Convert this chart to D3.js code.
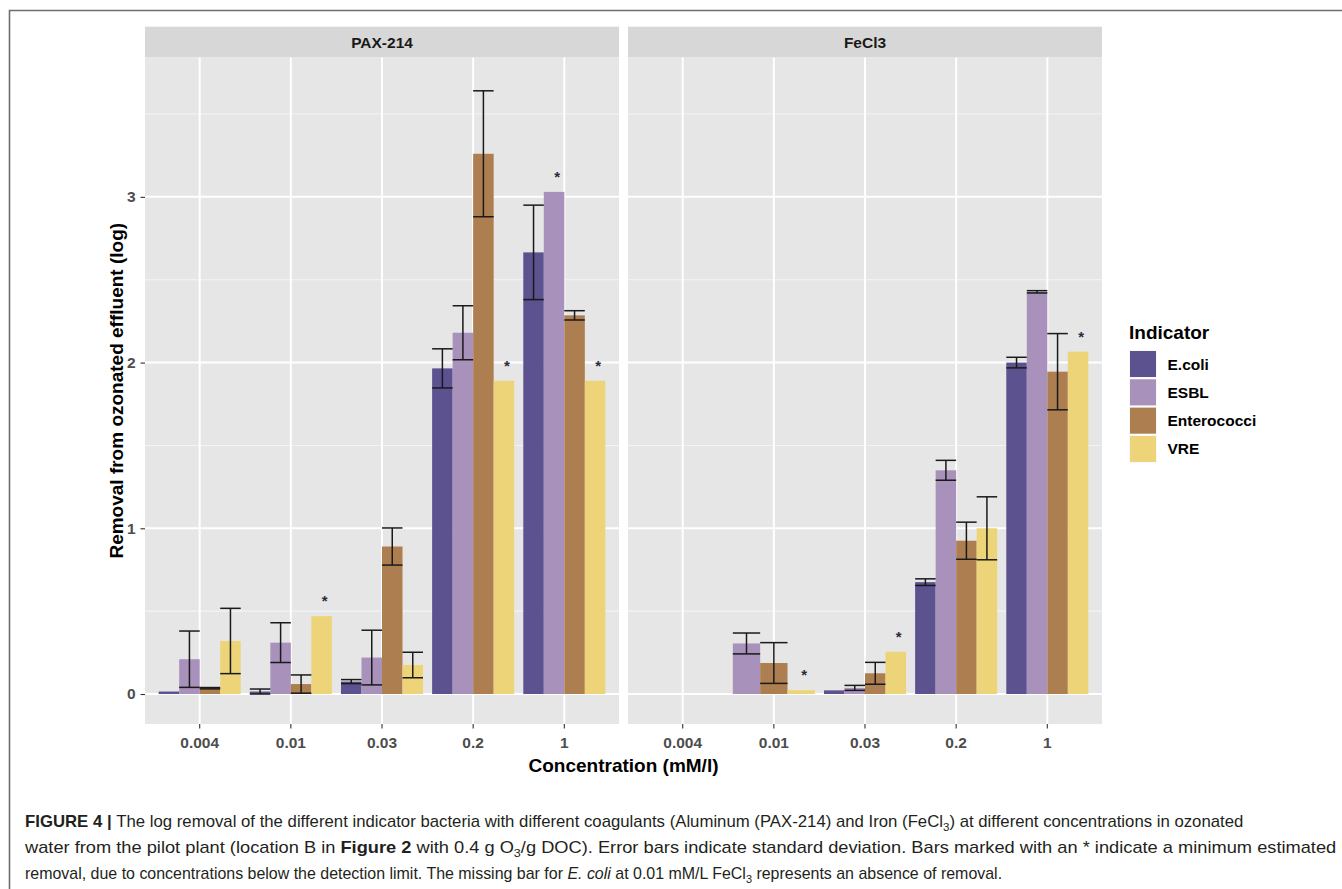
<!DOCTYPE html>
<html><head><meta charset="utf-8">
<script src="https://cdn.jsdelivr.net/npm/d3@7"></script>
<style>body{margin:0;background:#fff} svg{display:block}</style>
</head><body>
<svg id="c" width="1342" height="889"></svg>
<script>
// ---------- data ----------
const categories = ["0.004", "0.01", "0.03", "0.2", "1"];
const panels = ["PAX-214", "FeCl3"];
const indicators = ["E.coli", "ESBL", "Enterococci", "VRE"];
const colors = ["#5B528F", "#A891BB", "#AD7E4F", "#EED479"];
const yTicks = [0, 1, 2, 3];

// PAX-214 (mean log removal, standard deviation)
const paxEcoli      = [0.015, 0.015, 0.075, 1.965, 2.665];
const paxEcoliSd    = [null,  0.015, 0.012, 0.118, 0.285];
const paxEsbl       = [0.21,  0.31,  0.22,  2.18,  3.03];
const paxEsblSd     = [0.17,  0.12,  0.165, 0.163, null];
const paxEntero     = [0.035, 0.06,  0.89,  3.26,  2.285];
const paxEnteroSd   = [0.004, 0.055, 0.112, 0.38,  0.028];
const paxVre        = [0.32,  0.47,  0.175, 1.89,  1.89];
const paxVreSd      = [0.197, null,  0.077, null,  null];

// FeCl3
const fecEcoli      = [null, null,  0.022, 0.675, 2.0];
const fecEcoliSd    = [null, null,  null,  0.02,  0.032];
const fecEsbl       = [null, 0.305, 0.037, 1.35,  2.427];
const fecEsblSd     = [null, 0.063, 0.015, 0.06,  0.007];
const fecEntero     = [null, 0.187, 0.125, 0.925, 1.945];
const fecEnteroSd   = [null, 0.123, 0.066, 0.112, 0.23];
const fecVre        = [null, 0.023, 0.255, 1.0,   2.066];
const fecVreSd      = [null, null,  null,  0.19,  null];

// bars marked with * (minimum estimated removal)
const starred = [
  ["PAX-214", "0.01", "VRE"], ["PAX-214", "0.2", "VRE"],
  ["PAX-214", "1", "ESBL"], ["PAX-214", "1", "VRE"],
  ["FeCl3", "0.01", "VRE"], ["FeCl3", "0.03", "VRE"], ["FeCl3", "1", "VRE"]
];

const seriesByPanel = {
  "PAX-214": [[paxEcoli, paxEcoliSd], [paxEsbl, paxEsblSd], [paxEntero, paxEnteroSd], [paxVre, paxVreSd]],
  "FeCl3":   [[fecEcoli, fecEcoliSd], [fecEsbl, fecEsblSd], [fecEntero, fecEnteroSd], [fecVre, fecVreSd]]
};

// ---------- layout ----------
const svg = d3.select("#c");
const FONT = "'Liberation Sans', Arial, Helvetica, sans-serif";
const panelX = {"PAX-214": [145, 619], "FeCl3": [628, 1102]};
const stripTop = 26.7, panelTop = 57.5, panelBottom = 724;

const y = d3.scaleLinear().domain([-0.181, 3.841]).range([panelBottom, panelTop]);
const color = d3.scaleOrdinal().domain(indicators).range(colors);

// frame
svg.append("path").attr("d", "M9.5,889 V10.5 H1342").attr("fill", "none")
  .attr("stroke", "#6e6e6e").attr("stroke-width", 1.6);

panels.forEach(p => {
  const [x0, x1] = panelX[p];
  const x = d3.scaleBand().domain(categories).range([x0, x1]).paddingInner(0).paddingOuter(0.1);
  const step = x.step();
  const g = svg.append("g");

  // strip
  g.append("rect").attr("x", x0).attr("y", stripTop).attr("width", x1 - x0)
    .attr("height", panelTop - stripTop).attr("fill", "#D7D7D7");
  g.append("text").attr("x", (x0 + x1) / 2).attr("y", (stripTop + panelTop) / 2 + 5.5)
    .attr("text-anchor", "middle").attr("font-family", FONT).attr("font-weight", "bold")
    .attr("font-size", 15.5).attr("fill", "#1a1a1a").text(p);

  // panel background
  g.append("rect").attr("x", x0).attr("y", panelTop).attr("width", x1 - x0)
    .attr("height", panelBottom - panelTop).attr("fill", "#E6E6E6");

  // minor grid
  const minor = d3.range(-0.5, 4, 1).filter(v => y(v) < panelBottom && y(v) > panelTop);
  g.selectAll(".minor").data(minor).join("line")
    .attr("x1", x0).attr("x2", x1).attr("y1", d => y(d)).attr("y2", d => y(d))
    .attr("stroke", "#F4F4F4").attr("stroke-width", 1.1);
  // major grid
  g.selectAll(".majorY").data(yTicks).join("line")
    .attr("x1", x0).attr("x2", x1).attr("y1", d => y(d)).attr("y2", d => y(d))
    .attr("stroke", "#FFFFFF").attr("stroke-width", 2);
  g.selectAll(".majorX").data(categories).join("line")
    .attr("x1", d => x(d) + step / 2).attr("x2", d => x(d) + step / 2)
    .attr("y1", panelTop).attr("y2", panelBottom)
    .attr("stroke", "#FFFFFF").attr("stroke-width", 2);

  // data rows
  const rows = [];
  categories.forEach((c, ci) => {
    const present = indicators.filter((ind, ii) => seriesByPanel[p][ii][0][ci] != null);
    const inner = d3.scaleBand().domain(present)
      .range([x(c) + step / 2 - 0.45 * step, x(c) + step / 2 + 0.45 * step]).padding(0);
    present.forEach(ind => {
      const ii = indicators.indexOf(ind);
      rows.push({
        cat: c, ind, value: seriesByPanel[p][ii][0][ci], sd: seriesByPanel[p][ii][1][ci],
        x: inner(ind), w: inner.bandwidth(),
        star: starred.some(s => s[0] === p && s[1] === c && s[2] === ind)
      });
    });
  });

  g.selectAll(".bar").data(rows).join("rect")
    .attr("x", d => d.x).attr("width", d => d.w)
    .attr("y", d => y(d.value)).attr("height", d => y(0) - y(d.value))
    .attr("fill", d => color(d.ind));

  const eb = rows.filter(d => d.sd != null);
  const ebg = g.selectAll(".eb").data(eb).join("g");
  ebg.append("line").attr("x1", d => d.x + d.w / 2).attr("x2", d => d.x + d.w / 2)
    .attr("y1", d => y(d.value - d.sd)).attr("y2", d => y(d.value + d.sd));
  ebg.append("line").attr("x1", d => d.x).attr("x2", d => d.x + d.w)
    .attr("y1", d => y(d.value - d.sd)).attr("y2", d => y(d.value - d.sd));
  ebg.append("line").attr("x1", d => d.x).attr("x2", d => d.x + d.w)
    .attr("y1", d => y(d.value + d.sd)).attr("y2", d => y(d.value + d.sd));
  ebg.selectAll("line").attr("stroke", "#1a1a1a").attr("stroke-width", 1.5);

  g.selectAll(".star").data(rows.filter(d => d.star)).join("text")
    .attr("x", d => d.x + d.w / 2 + 3).attr("y", d => y(d.value) - 10)
    .attr("text-anchor", "middle").attr("font-family", FONT).attr("font-size", 15)
    .attr("font-weight", "bold").attr("fill", "#2a2a3a").text("*");

  // x axis
  const xa = svg.append("g").attr("transform", `translate(0,${panelBottom})`)
    .call(d3.axisBottom(x).tickSize(4.5).tickPadding(6));
  xa.select(".domain").remove();
  xa.selectAll(".tick line").attr("stroke", "#333").attr("stroke-width", 1.1);
  xa.selectAll(".tick text").attr("font-family", FONT).attr("font-size", 15.5)
    .attr("font-weight", "bold").attr("fill", "#4D4D4D").attr("dy", "0.9em");

  if (p === "PAX-214") {
    const ya = svg.append("g").attr("transform", `translate(${x0},0)`)
      .call(d3.axisLeft(y).tickValues(yTicks).tickFormat(d3.format("d")).tickSize(4.5).tickPadding(5));
    ya.select(".domain").remove();
    ya.selectAll(".tick line").attr("stroke", "#333").attr("stroke-width", 1.1);
    ya.selectAll(".tick text").attr("font-family", FONT).attr("font-size", 15.5)
      .attr("font-weight", "bold").attr("fill", "#4D4D4D");
  }
});

// axis titles
svg.append("text").attr("x", 623.5).attr("y", 772).attr("text-anchor", "middle")
  .attr("font-family", FONT).attr("font-weight", "bold").attr("font-size", 19)
  .attr("fill", "#000").text("Concentration (mM/l)");
svg.append("text").attr("transform", `translate(123,${(panelTop + panelBottom) / 2}) rotate(-90)`)
  .attr("text-anchor", "middle").attr("font-family", FONT).attr("font-weight", "bold")
  .attr("font-size", 19).attr("fill", "#000").text("Removal from ozonated effluent (log)");

// legend
const lg = svg.append("g");
lg.append("text").attr("x", 1129).attr("y", 339).attr("font-family", FONT)
  .attr("font-weight", "bold").attr("font-size", 19).attr("fill", "#000").text("Indicator");
indicators.forEach((ind, i) => {
  const ky = 351 + i * 28.33;
  lg.append("rect").attr("x", 1129.5).attr("y", ky - 0.5).attr("width", 27).attr("height", 27)
    .attr("fill", "#F2F2F2");
  lg.append("rect").attr("x", 1130).attr("y", ky).attr("width", 26).attr("height", 26)
    .attr("fill", color(ind));
  lg.append("text").attr("x", 1167.5).attr("y", ky + 13 + 5.5).attr("font-family", FONT)
    .attr("font-weight", "bold").attr("font-size", 15.5).attr("fill", "#000").text(ind);
});

// caption
const capLines = [
  {y: 827, target: 1219, parts: [
    {t: "FIGURE 4 ", w: "bold"}, {t: "| ", w: "bold"},
    {t: "The log removal of the different indicator bacteria with different coagulants (Aluminum (PAX-214) and Iron (FeCl"},
    {t: "3", sub: true}, {t: ") at different concentrations in ozonated"}]},
  {y: 853, target: 1312, parts: [
    {t: "water from the pilot plant (location B in "}, {t: "Figure 2", w: "bold"},
    {t: " with 0.4 g O"}, {t: "3", sub: true},
    {t: "/g DOC). Error bars indicate standard deviation. Bars marked with an * indicate a minimum estimated"}]},
  {y: 879, target: 978, parts: [
    {t: "removal, due to concentrations below the detection limit. The missing bar for "},
    {t: "E. coli", i: true}, {t: " at 0.01 mM/L FeCl"}, {t: "3", sub: true},
    {t: " represents an absence of removal."}]}
];
capLines.forEach(L => {
  const gl = svg.append("g");
  const tx = gl.append("text").attr("x", 0).attr("y", 0).attr("font-family", FONT)
    .attr("font-size", 16).attr("fill", "#231F20");
  let shifted = false;
  L.parts.forEach(pt => {
    const ts = tx.append("tspan").text(pt.t);
    if (pt.w) ts.attr("font-weight", pt.w);
    if (pt.i) ts.attr("font-style", "italic");
    if (pt.sub) { ts.attr("font-size", 11).attr("dy", 4); shifted = true; }
    else if (shifted) { ts.attr("dy", -4); shifted = false; }
  });
  const w = tx.node().getComputedTextLength();
  const sx = L.target / w;
  gl.attr("transform", `translate(25,${L.y}) scale(${sx},1)`);
});
</script>
</body></html>
